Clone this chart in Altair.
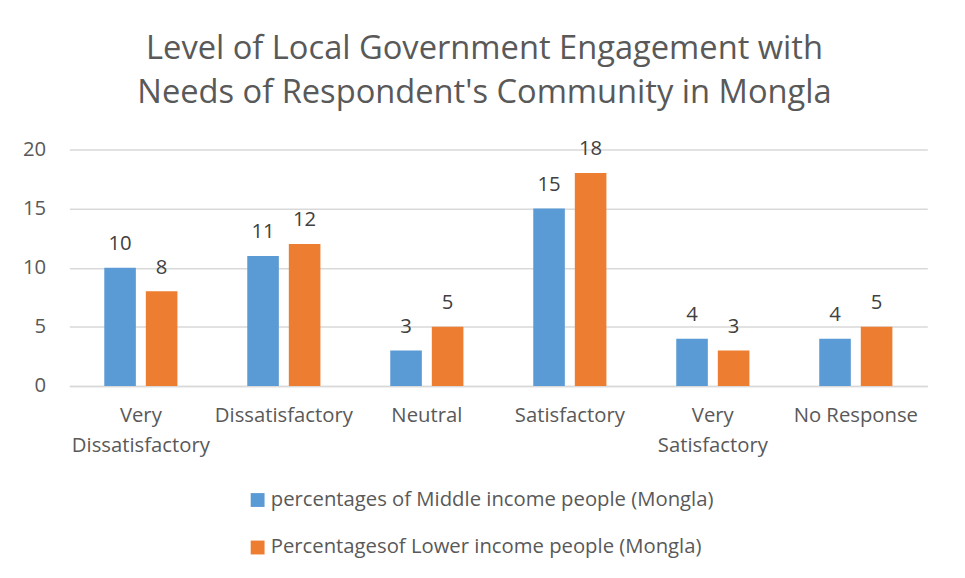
import altair as alt
import pandas as pd

categories = ["Very\nDissatisfactory", "Dissatisfactory", "Neutral", "Satisfactory", "Very\nSatisfactory", "No Response"]
series_names = ["percentages of Middle income people (Mongla)", "Percentagesof Lower income people (Mongla)"]
middle = [10, 11, 3, 15, 4, 4]
lower = [8, 12, 5, 18, 3, 5]
colors = ["#5b9bd5", "#ed7d31"]

rows = []
for i, c in enumerate(categories):
    rows.append({"cat": c, "series": series_names[0], "value": middle[i]})
    rows.append({"cat": c, "series": series_names[1], "value": lower[i]})
df = pd.DataFrame(rows)

FONT = "Open Sans"

x = alt.X("cat:N", sort=categories, title=None,
          scale=alt.Scale(paddingInner=0.0, paddingOuter=0.0),
          axis=alt.Axis(labelExpr="split(datum.label, '\\n')", labelAngle=0,
                        labelFontSize=20.5, labelColor="#595959", labelFont=FONT,
                        labelPadding=20, labelLineHeight=30,
                        ticks=False, domainColor="#d9d9d9", domainWidth=1.5, grid=False))
xo = alt.XOffset("series:N", sort=series_names,
                 scale=alt.Scale(paddingInner=0.24, paddingOuter=0.84))
y = alt.Y("value:Q", title=None,
          scale=alt.Scale(domain=[0, 20]),
          axis=alt.Axis(values=[0, 5, 10, 15, 20], labelFontSize=20.5, labelColor="#595959",
                        labelFont=FONT, labelPadding=24, ticks=False, domain=False,
                        gridColor="#d9d9d9", gridWidth=1.5))

bars = alt.Chart(df).mark_bar().encode(
    x=x, xOffset=xo, y=y,
    color=alt.Color("series:N", sort=series_names,
                    scale=alt.Scale(domain=series_names, range=colors),
                    legend=alt.Legend(title=None, orient="none", legendX=180, legendY=344,
                                      direction="vertical", symbolType="square",
                                      symbolSize=196, labelFontSize=20.5, labelFont=FONT,
                                      labelColor="#595959", rowPadding=27, labelOffset=3,
                                      symbolStrokeWidth=0, labelLimit=700)),
)

text = alt.Chart(df).mark_text(dy=-24, fontSize=20.5, font=FONT, color="#404040").encode(
    x=x, xOffset=xo, y=y, text="value:Q", detail="series:N"
)

chart = (bars + text).properties(
    width=867, height=239,
    title=alt.TitleParams(
        text=["Level of Local Government Engagement with", "Needs of Respondent's Community in Mongla"],
        fontSize=33, font=FONT, fontWeight="normal", color="#595959",
        anchor="middle", offset=30, lineHeight=44, dx=-14),
    autosize=alt.AutoSizeParams(type="none"),
    padding={"left": 62, "top": 140, "right": 30, "bottom": 180},
).configure_view(stroke=None)

chart.save("out.html", embed_options={"renderer": "svg", "actions": False})
